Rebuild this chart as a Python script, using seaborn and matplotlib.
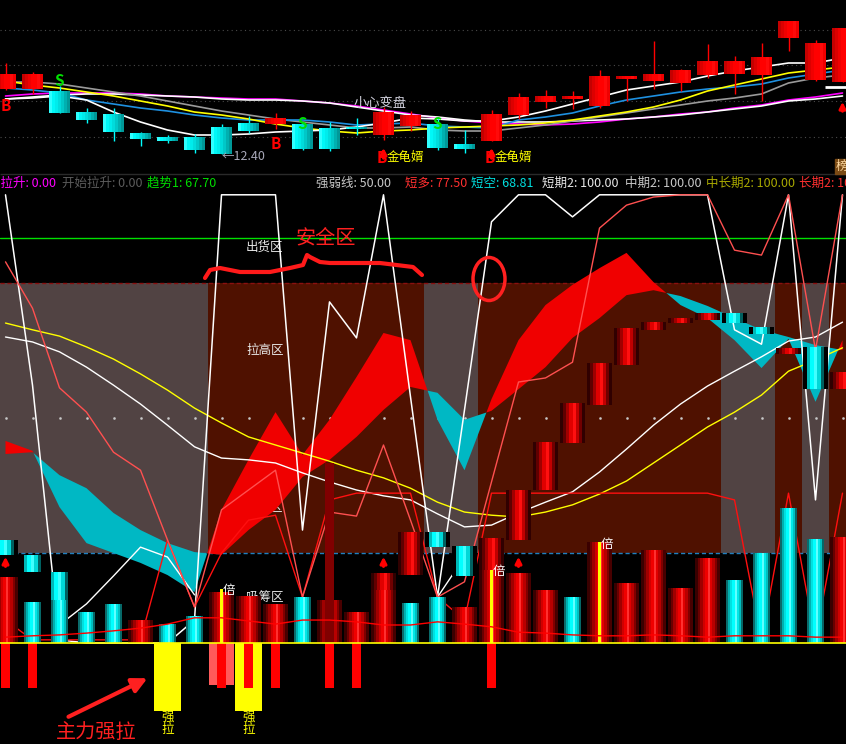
import numpy as np
import matplotlib
matplotlib.use("Agg")
import matplotlib.pyplot as plt
from matplotlib.patches import Ellipse, Rectangle
import seaborn as sns

# ── K-LINE DATA ───────────────────────────────────────────
days = np.arange(32)
opens  = [13.70, 13.70, 13.66, 13.24, 13.20, 12.82, 12.74, 12.74, 12.94, 13.02, 13.00, 13.00, 12.92, 12.94, 12.78, 12.96,
          13.00, 12.60, 12.66, 13.18, 13.44, 13.50, 13.36, 13.90, 13.86, 13.82, 13.98, 14.00, 13.98, 14.72, 13.88, 13.84]
closes = [14.00, 14.00, 13.22, 13.09, 12.84, 12.70, 12.66, 12.48, 12.40, 12.86, 13.12, 12.50, 12.50, 12.90, 13.24, 13.18,
          12.52, 12.50, 13.20, 13.54, 13.56, 13.56, 13.96, 13.96, 14.00, 14.08, 14.26, 14.26, 14.34, 15.06, 14.62, 14.92]
highs  = [14.22, 14.04, 13.76, 13.32, 13.32, 12.84, 12.78, 12.80, 13.00, 13.16, 13.22, 13.04, 13.04, 13.12, 13.34, 13.26,
          13.14, 12.88, 13.28, 13.62, 13.68, 13.66, 14.08, 13.96, 14.66, 14.10, 14.60, 14.36, 14.62, 15.06, 14.68, 14.92]
lows   = [13.68, 13.60, 13.22, 13.02, 12.66, 12.56, 12.62, 12.42, 12.40, 12.82, 12.90, 12.48, 12.46, 12.78, 12.68, 12.86,
          12.48, 12.42, 12.66, 13.10, 13.32, 13.30, 13.32, 13.46, 13.70, 13.66, 13.92, 13.60, 13.46, 14.46, 13.86, 13.84]

ma5   = [13.50, 13.52, 13.56, 13.48, 13.24, 13.04, 12.88, 12.78, 12.78, 12.80, 12.84, 12.86, 12.88, 12.94, 13.02, 13.12,
         13.10, 13.06, 13.06, 13.14, 13.26, 13.40, 13.54, 13.68, 13.76, 13.84, 13.96, 14.06, 14.14, 14.22, 14.22, 14.32]
ma10  = [13.86, 13.78, 13.72, 13.64, 13.56, 13.46, 13.36, 13.24, 13.18, 13.10, 13.00, 12.92, 12.86, 12.82, 12.86, 12.88,
         12.92, 12.94, 12.96, 12.98, 13.02, 13.08, 13.16, 13.24, 13.34, 13.48, 13.66, 13.78, 13.90, 14.02, 14.08, 14.14]
ma20  = [13.72, 13.68, 13.62, 13.48, 13.40, 13.32, 13.26, 13.18, 13.12, 13.08, 13.08, 13.08, 13.04, 12.98, 13.00, 13.02,
         12.96, 12.94, 12.92, 13.08, 13.14, 13.22, 13.36, 13.48, 13.56, 13.64, 13.70, 13.74, 13.80, 13.92, 14.00, 14.08]
ma30  = [13.84, 13.84, 13.80, 13.72, 13.64, 13.56, 13.46, 13.36, 13.26, 13.18, 13.10, 13.04, 12.98, 12.92, 12.92, 12.94,
         12.88, 12.86, 12.86, 12.92, 12.98, 13.06, 13.14, 13.22, 13.30, 13.38, 13.46, 13.52, 13.60, 13.82, 13.92, 13.98]
ma60  = [13.56, 13.60, 13.62, 13.62, 13.62, 13.60, 13.56, 13.54, 13.52, 13.50, 13.50, 13.46, 13.42, 13.36, 13.28, 13.20,
         13.12, 13.06, 13.02, 13.00, 12.98, 13.00, 13.04, 13.10, 13.14, 13.20, 13.24, 13.32, 13.38, 13.48, 13.54, 13.62]
ma120 = [13.50, 13.54, 13.58, 13.60, 13.60, 13.58, 13.56, 13.54, 13.50, 13.48, 13.48, 13.46, 13.42, 13.34, 13.26, 13.18,
         13.14, 13.08, 13.04, 13.04, 13.04, 13.06, 13.08, 13.10, 13.14, 13.18, 13.24, 13.30, 13.36, 13.46, 13.50, 13.56]

# ── INDICATOR DATA (0-100 scale) ──────────────────────────
zone_flag = [0, 0, 0, 0, 0, 0, 0, 0, 1, 1, 1, 1, 1, 1, 1, 1,
             0, 0, 1, 1, 1, 1, 1, 1, 1, 1, 1, 0, 0, 1, 0, 1]
fast_line = [44.9, 42.7, 30.2, 22.2, 20.0, 17.8, 15.1, 11.3, 29.6, 40.7, 51.3, 41.8, 49.6, 59.1, 68.9, 67.3,
             49.6, 38.4, 54.2, 67.3, 75.1, 79.6, 83.3, 86.7, 80.2, 75.1, 72.2, 67.3, 61.1, 67.6, 53.6, 67.3]
slow_line = [42.0, 42.4, 37.3, 34.4, 28.9, 25.1, 22.2, 20.2, 19.6, 25.1, 29.6, 36.9, 40.7, 45.8, 51.8, 56.9,
             55.6, 49.6, 51.6, 56.4, 61.3, 67.8, 72.2, 77.3, 78.4, 77.1, 74.9, 72.2, 69.6, 68.0, 66.2, 65.1]
j_line    = [99.6, 57.3, 0.7, 0.0, 0.0, 0.0, 0.0, 5.1, 99.6, 99.6, 99.6, 25.1, 75.8, 67.8, 99.6, 54.7,
             10.2, 51.8, 93.6, 99.6, 99.6, 94.7, 99.6, 99.6, 99.6, 99.6, 99.6, 69.6, 66.4, 99.6, 31.8, 99.6]
k_days_a, k_vals_a = [2, 3, 4, 5, 6, 7], [4.0, 8.7, 14.9, 21.3, 19.1, 10.7]
k_days_b, k_vals_b = [16, 17], [10.2, 19.1]
r1_line   = [84.7, 74.4, 56.7, 51.3, 42.4, 38.4, 22.9, 8.0, 29.6, 34.0, 38.4, 10.2, 29.1, 28.2, 44.0, 27.3,
             10.2, 13.6, 35.8, 58.0, 58.9, 62.4, 92.2, 97.3, 99.1, 99.6, 99.6, 87.3, 86.2, 99.6, 65.1, 99.6]
r2_line   = [5.1, 0.7, 0.7, 0.7, 0.7, 0.7, 22.9, 8.0, 20.0, 27.3, 28.4, 10.2, 31.8, 33.3, 33.3, 33.3,
             10.2, 5.1, 33.3, 33.3, 33.3, 33.3, 33.3, 33.3, 33.3, 33.3, 33.3, 31.8, 0.7, 33.3, 0.7, 33.3]
white_slow  = [68.0, 66.9, 64.7, 61.3, 57.3, 53.1, 48.4, 43.6, 41.1, 40.7, 40.0, 37.8, 35.8, 34.0, 32.7, 31.8,
               28.7, 25.8, 26.2, 28.9, 31.3, 33.6, 38.0, 43.1, 48.4, 53.1, 57.1, 60.4, 63.6, 67.1, 68.0, 71.3]
yellow_slow = [71.1, 69.6, 68.2, 65.8, 63.1, 59.8, 56.2, 52.2, 48.9, 45.8, 44.0, 42.2, 40.4, 38.4, 36.7, 34.4,
               31.3, 29.1, 28.4, 28.0, 29.1, 30.7, 33.1, 36.0, 40.0, 44.0, 48.0, 51.3, 55.1, 60.4, 62.9, 65.6]

vol    = [14.7, 9.1, 9.6, 6.9, 8.7, 5.1, 4.2, 6.0, 11.3, 10.4, 8.7, 10.2, 9.6, 6.9, 11.8, 8.9,
          10.2, 8.0, 16.2, 15.6, 11.8, 10.2, 22.4, 13.3, 20.7, 12.2, 18.9, 14.0, 20.0, 30.0, 23.1, 23.6]
vol_up = [1, 0, 0, 0, 0, 1, 0, 0, 1, 1, 1, 0, 1, 1, 1, 0, 0, 1, 1, 1, 1, 0, 1, 1, 1, 1, 1, 0, 0, 0, 0, 1]
vol_ma = [1.3, 1.6, 1.8, 2.2, 2.7, 3.3, 4.2, 5.6, 5.6, 4.9, 4.2, 5.1, 5.1, 4.7, 4.0, 4.0,
          4.7, 4.2, 3.6, 2.4, 2.2, 1.8, 1.6, 1.6, 1.8, 1.6, 1.3, 1.6, 1.6, 1.6, 1.3, 1.3]

ladder_k  = [0, 1, 2, 14, 15, 16, 17, 18, 19, 20, 21, 22, 23, 24, 25, 26, 27, 28, 29, 30, 31]
ladder_hi = [22.9, 19.6, 15.8, 15.6, 24.7, 24.7, 21.6, 23.3, 34.0, 44.7, 53.3, 62.2, 70.0, 71.3, 72.2, 73.3,
             73.3, 70.2, 65.6, 65.8, 60.2]
ladder_lo = [19.6, 15.8, 9.6, 11.8, 15.1, 21.3, 14.9, 16.2, 22.9, 34.0, 44.4, 52.9, 61.8, 69.6, 71.1, 71.8,
             71.1, 68.7, 64.2, 56.4, 56.4]
ladder_up = [0, 0, 0, 1, 1, 0, 0, 1, 1, 1, 1, 1, 1, 1, 1, 1, 0, 0, 1, 0, 1]

spike_k, spike_top = 12, 40.0
pull_red_k = [0, 1, 8, 9, 10, 12, 13, 18]
pull_red_depth = -10.0
pull_yellow_k = [6, 9]
pull_yellow_depth = -15.1
pull_pink_k = [8]
pull_pink_depth = -9.3
bei_k = [8, 18, 22]
bei_top = [12.0, 16.2, 22.4]
arrow_k = [0, 14, 19]

legend_items = [("强拉升: 0.00", "#ff00ff"), ("开始拉升: 0.00", "#5c5c5c"), ("趋势1: 67.70", "#00dd00"),
                ("强弱线: 50.00", "#c8c8c8"), ("短多: 77.50", "#ff3030"), ("短空: 68.81", "#00e0e0"),
                ("短期2: 100.00", "#e8e8e8"), ("中期2: 100.00", "#c8c8c8"), ("中长期2: 100.00", "#a8a800"),
                ("长期2: 100.00", "#ff3030")]
legend_x = [-12, 62, 147, 316, 405, 471, 542, 625, 706, 799]

# ── STYLE ─────────────────────────────────────────────────
sns.set_theme(style="dark", rc={"axes.facecolor": "black", "figure.facecolor": "black"})
plt.rcParams['font.family'] = ['Noto Sans CJK SC', 'DejaVu Sans']

RED_CANDLE  = ['#c40000', '#dc0000', '#f00000', '#ff0000', '#ff0000', '#ff0a0a', '#f00000']
CYAN_CANDLE = ['#30ffff', '#00f8f8', '#00ecec', '#00dcdc', '#00c8c8', '#00b0b0', '#009898']
RED_CYL  = ['#3a0000', '#6a0000', '#a00000', '#d00000', '#f00000', '#ff3030', '#e00000', '#b80000', '#800000', '#480000']
CYAN_CYL = ['#0b6b6b', '#00b0b0', '#00e0e0', '#00ffff', '#60ffff', '#00e8e8', '#00c0c0', '#066868']
RED_LAD  = ['#300000', '#600000', '#a00000', '#e00000', '#ff1010', '#c00000', '#700000', '#300000']
CYAN_LAD = ['#000000', '#00b8b8', '#00ffff', '#40ffff', '#00d8d8', '#006060', '#000000']
ZONE_COL = ['#514343', '#4f1100']

W, H = 846, 744
fig = plt.figure(figsize=(W / 100, H / 100), dpi=100)


def px_axes(top, bottom):
    ax = fig.add_axes([0, 1 - bottom / H, 1, (bottom - top) / H])
    ax.set_facecolor('black')
    ax.set_xlim(-5.5 / 27, (W - 5.5) / 27)
    ax.axis('off')
    return ax


def cylinder(ax, x, lo, hi, width, colors, z=3):
    n = len(colors)
    w = width / n
    left = x - width / 2 + w * np.arange(n)
    ax.bar(left, hi - lo, width=w, bottom=lo, align='edge', color=colors,
           linewidth=0, antialiased=False, zorder=z)


ax_k = px_axes(0, 173)
ax_k.set_ylim(15.48 - 0.02 * 173, 15.48)
ax_i = px_axes(192, 744)
ax_i.set_ylim((643 - 744) / 4.5, (643 - 192) / 4.5)

# ── TOP PANEL: CANDLES + MAs ──────────────────────────────
for lvl in [14.88, 14.18, 13.46, 12.74]:
    ax_k.axhline(lvl, color='#4a4a4a', lw=0.8, ls=(0, (1, 3)), zorder=1)

for vals, col in [(ma60, '#ff00ff'), (ma120, '#ffffff'), (ma30, '#9a9a9a'),
                  (ma20, '#1e90e0'), (ma10, '#ffff00'), (ma5, '#ffffff')]:
    sns.lineplot(x=days, y=vals, ax=ax_k, color=col, lw=1.2, zorder=2, errorbar=None)

for i in days:
    o, h, l, c = opens[i], highs[i], lows[i], closes[i]
    up = c >= o
    ax_k.vlines(i, l, h, color='#ff0000' if up else '#00ffff', lw=1, zorder=3)
    lo, hi = min(o, c), max(o, c)
    cylinder(ax_k, i, lo, max(hi, lo + 0.03), 0.78, RED_CANDLE if up else CYAN_CANDLE, z=4)

ax_k.hlines(13.74, 30.35, 31.2, color='white', lw=2, zorder=5)
tk = dict(zorder=6, fontsize=11, fontweight='bold')
ax_k.text(0.0, 13.36, "B", color='#ff0000', ha='center', va='center', **tk)
ax_k.text(2, 13.86, "S", color='#00e000', ha='center', va='center', **tk)
ax_k.text(10, 12.60, "B", color='#ff0000', ha='center', va='center', **tk)
ax_k.text(11, 13.00, "S", color='#00e000', ha='center', va='center', **tk)
ax_k.text(16, 13.00, "S", color='#00e000', ha='center', va='center', **tk)
ax_k.text(8, 12.34, "←12.40", color='#a8a8b8', ha='left', va='center', fontsize=9, zorder=6)
ax_k.text(13.87, 13.40, "小心变盘", color='#d0d0dc', ha='center', va='center', fontsize=9.5, zorder=6)
for k in [14, 18]:
    ax_k.text(k - 0.05, 12.32, "B", color='#ff0000', ha='center', va='center', **tk)
    ax_k.annotate('', xy=(k, 12.58), xytext=(k, 12.26), zorder=7,
                  arrowprops=dict(arrowstyle='-|>', color='#ff0000', lw=2.2, mutation_scale=9))
    ax_k.text(k + 0.12, 12.33, "金龟婿", color='#ffff00', ha='left', va='center', fontsize=9, zorder=7)
ax_k.annotate('', xy=(31.0, 13.50), xytext=(31.0, 13.20), zorder=7,
              arrowprops=dict(arrowstyle='-|>', color='#ff0000', lw=2.2, mutation_scale=9))

# ── BOTTOM PANEL: ZONES ───────────────────────────────────
ax_i.bar(days, 60, bottom=20, width=1.0, color=[ZONE_COL[z] for z in zone_flag],
         linewidth=0, antialiased=False, zorder=0)
ax_i.axhline(80, color='#8a1010', lw=1, ls=(0, (3, 2)), zorder=1)
ax_i.axhline(20, color='#2080c0', lw=1, ls=(0, (3, 2)), zorder=1)
ax_i.axhline(90, color='#00e000', lw=1, zorder=1)
ax_i.plot(days, np.full(len(days), 50.0), ls='none', marker='s', ms=0.8, color='#c8c8c8', zorder=1)

zl = dict(color='#e8e8e8', fontsize=9, ha='center', va='center', zorder=1)
ax_i.text(9.6, 88.0, "出货区", **zl)
ax_i.text(9.6, 65.1, "拉高区", **zl)
ax_i.text(9.6, 30.2, "建仓区", **zl)
ax_i.text(9.6, 10.0, "吸筹区", **zl)

# ribbon
fa, sa = np.array(fast_line), np.array(slow_line)
ax_i.fill_between(days, fa, sa, where=fa >= sa, interpolate=True, color='#f00000', lw=0, zorder=1.5)
ax_i.fill_between(days, fa, sa, where=fa < sa, interpolate=True, color='#00b8c4', lw=0, zorder=1.5)

# oscillator lines
sns.lineplot(x=days, y=yellow_slow, ax=ax_i, color='#ffff00', lw=1, zorder=2, errorbar=None)
sns.lineplot(x=days, y=white_slow, ax=ax_i, color='#ffffff', lw=1, zorder=2, errorbar=None)
sns.lineplot(x=days, y=j_line, ax=ax_i, color='#ffffff', lw=1.1, zorder=2.2, errorbar=None)
sns.lineplot(x=k_days_a, y=k_vals_a, ax=ax_i, color='#ffffff', lw=1, zorder=2.2, errorbar=None)
sns.lineplot(x=k_days_b, y=k_vals_b, ax=ax_i, color='#ffffff', lw=1, zorder=2.2, errorbar=None)
sns.lineplot(x=days, y=r2_line, ax=ax_i, color='#ff1010', lw=1, zorder=2.3, errorbar=None)
sns.lineplot(x=days, y=r1_line, ax=ax_i, color='#ff5050', lw=1, zorder=2.4, errorbar=None)

# ladder blocks
for k, hi, lo, up in zip(ladder_k, ladder_hi, ladder_lo, ladder_up):
    cylinder(ax_i, k, lo, hi, 0.9, RED_LAD if up else CYAN_LAD, z=3)

# volume bars
for k in days:
    if vol_up[k]:
        cylinder(ax_i, k, 0, vol[k], 0.9, RED_CYL, z=4)
    else:
        cylinder(ax_i, k, 0, vol[k], 0.63, CYAN_CYL, z=4)
ax_i.bar(spike_k, spike_top, width=0.3, color='#800000', linewidth=0, zorder=4.2)
ax_i.bar(bei_k, bei_top, width=0.12, color='#ffff00', linewidth=0, zorder=4.5)
for k, t in zip(bei_k, bei_top):
    ax_i.text(k + 0.05, t - 0.4, "倍", color='white', fontsize=9, ha='left', va='center', zorder=6)
sns.lineplot(x=days, y=vol_ma, ax=ax_i, color='#ff0000', lw=1, zorder=5, errorbar=None)
for k in arrow_k:
    ax_i.annotate('', xy=(k, 19.8), xytext=(k, 16.4), zorder=6,
                  arrowprops=dict(arrowstyle='-|>', color='#ff0000', lw=2.2, mutation_scale=9))

# downward pull bars
ax_i.bar(pull_pink_k, pull_pink_depth, width=0.89, color='#ff5a5a', linewidth=0, zorder=4)
for k in pull_yellow_k:
    ax_i.text(k, -16.5, "强", color='#ffff00', fontsize=9, ha='center', va='center', zorder=3.5)
    ax_i.text(k, -19.3, "拉", color='#ffff00', fontsize=9, ha='center', va='center', zorder=3.5)
ax_i.bar(pull_yellow_k, pull_yellow_depth, width=1.0, color='#ffff00', linewidth=0, zorder=4)
ax_i.bar(pull_red_k, pull_red_depth, width=0.33, color='#ff0000', linewidth=0, zorder=4.3)
ax_i.axhline(0, color='#ffff00', lw=1.2, zorder=5.5)

# ── OVERLAY: LEGEND ROW + HAND ANNOTATIONS ────────────────
ax_o = fig.add_axes([0, 0, 1, 1])
ax_o.set_xlim(0, W)
ax_o.set_ylim(H, 0)
ax_o.patch.set_alpha(0)
ax_o.axis('off')

ax_o.hlines(173.5, 0, W, color='#2a2a2a', lw=1)
for (txt, col), x in zip(legend_items, legend_x):
    ax_o.text(x, 183, txt, color=col, fontsize=9, ha='left', va='center')
ax_o.add_patch(Rectangle((835, 159), 12, 15, color='#7a4a14', zorder=3))
ax_o.text(836, 166.5, "榜", color='#ffd9a0', fontsize=9, ha='left', va='center', zorder=4)

brace_x = [205, 210, 220, 240, 270, 290, 303, 307, 310, 320, 330, 380, 413, 422]
brace_y = [278, 270, 268, 272, 272, 268, 265, 255, 257, 262, 263, 263, 267, 275]
ax_o.plot(brace_x, brace_y, color='#ff1a1a', lw=3, solid_capstyle='round', zorder=5)
ax_o.text(326, 238, "安全区", color='#ff2020', fontsize=14.5, ha='center', va='center', zorder=5)
ax_o.add_patch(Ellipse((489, 279), 32, 43, fill=False, edgecolor='#ff2020', lw=2.5, zorder=5))
ax_o.annotate('', xy=(150, 677), xytext=(66, 718), zorder=5,
              arrowprops=dict(arrowstyle='-|>', color='#ff2020', lw=3, mutation_scale=22))
ax_o.text(96, 732, "主力强拉", color='#ff2020', fontsize=14.5, ha='center', va='center', zorder=5)

fig.savefig("out.png", dpi=100, facecolor='black')
